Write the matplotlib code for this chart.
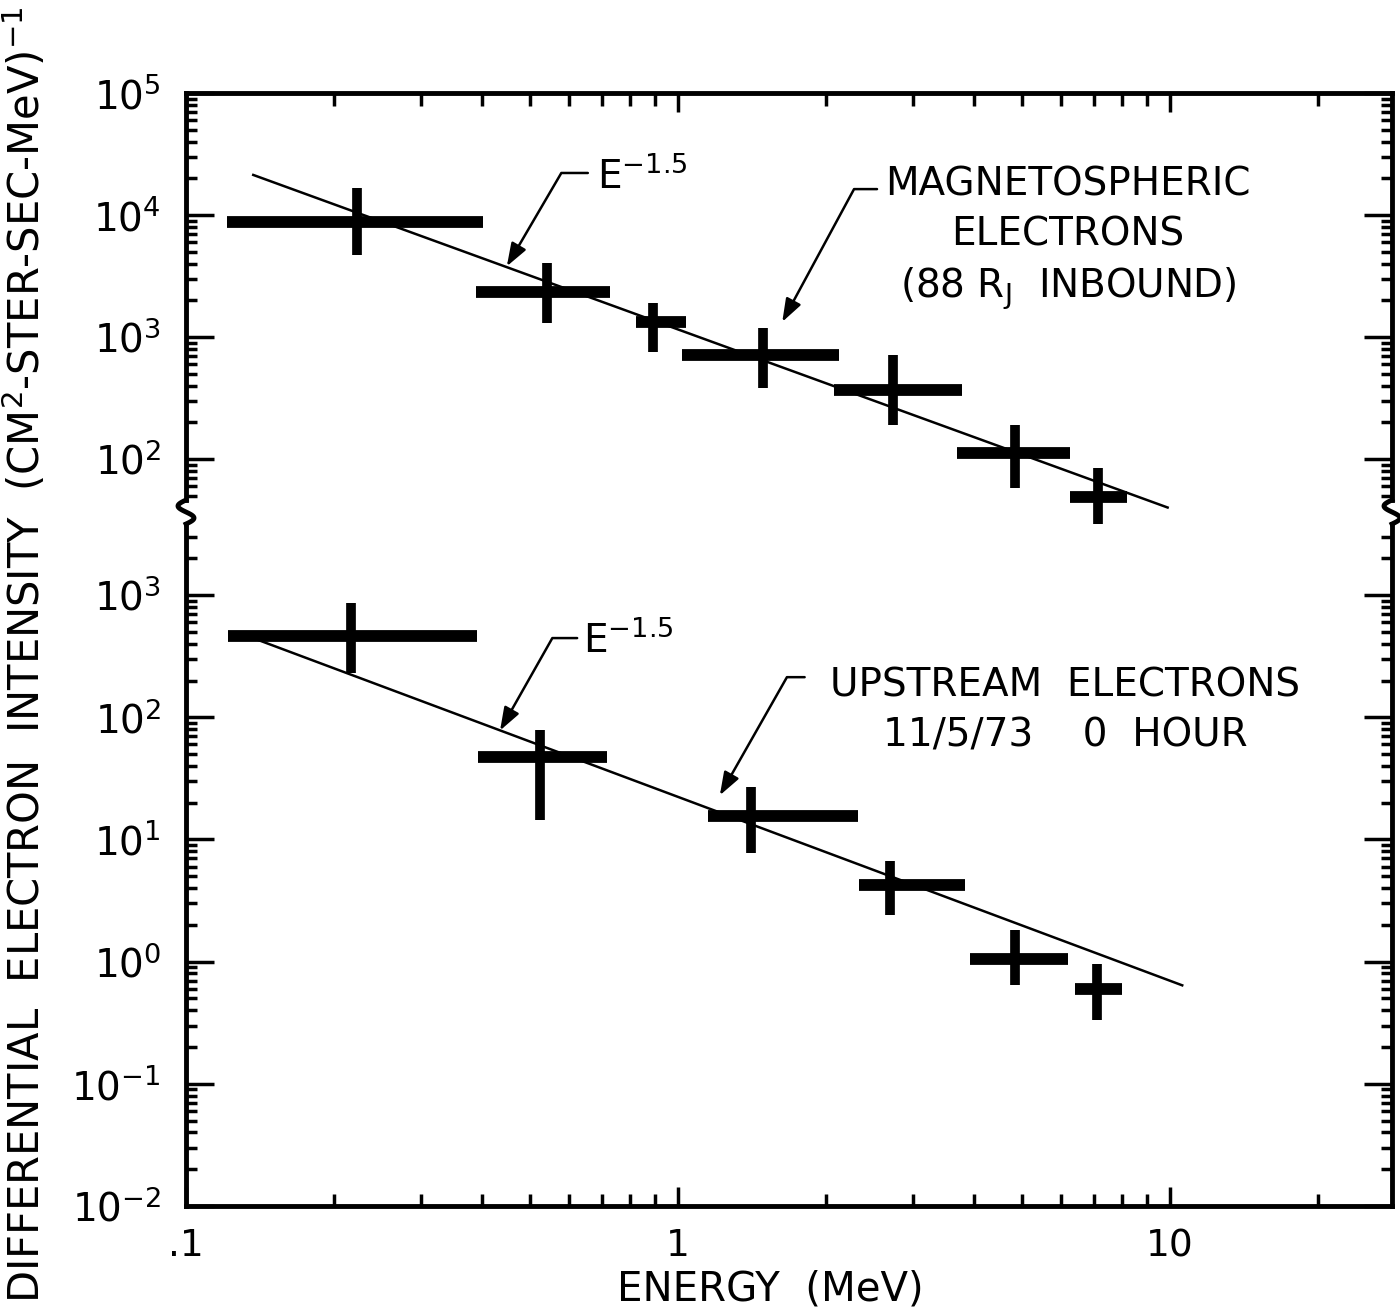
import numpy as np
import matplotlib
matplotlib.use("Agg")
import matplotlib.pyplot as plt
from matplotlib.ticker import LogLocator, FixedLocator, FixedFormatter, NullFormatter
from matplotlib.lines import Line2D

plt.rcParams['font.family'] = ['DejaVu Sans']
plt.rcParams['mathtext.fontset'] = 'dejavusans'

# ---------------- data ----------------
# Magnetospheric electrons (88 R_J inbound)
mag_E = [0.223, 0.542, 0.889, 1.49, 2.74, 4.84, 7.14]
mag_E_lo = [0.121, 0.388, 0.822, 1.02, 2.08, 3.69, 6.26]
mag_E_hi = [0.402, 0.727, 1.04, 2.13, 3.78, 6.26, 8.18]
mag_I = [8770, 2340, 1330, 711, 368, 112, 48.9]
mag_I_lo = [4700, 1300, 753, 382, 190, 57.8, 25.2]
mag_I_hi = [16600, 4040, 1900, 1185, 711, 190, 84.4]

# Upstream electrons 11/5/73 0 hour
ups_E = [0.217, 0.525, 1.41, 2.70, 4.84, 7.11]
ups_E_lo = [0.122, 0.392, 1.15, 2.34, 3.92, 6.41]
ups_E_hi = [0.390, 0.718, 2.32, 3.83, 6.21, 7.99]
ups_I = [461, 47, 15.7, 4.2, 1.06, 0.60]
ups_I_lo = [230, 14.3, 7.7, 2.4, 0.64, 0.33]
ups_I_hi = [859, 78, 26.7, 6.7, 1.8, 0.96]

# E^-1.5 reference lines (end points)
mag_fit_E = [0.137, 9.9]
mag_fit_I = [21300, 40]
ups_fit_E = [0.132, 10.6]
ups_fit_I = [470, 0.64]

xtick_vals = [0.1, 1, 10]
xtick_labels = ['.1', '1', '10']

ylabel = 'DIFFERENTIAL  ELECTRON  INTENSITY  (CM$^2$-STER-SEC-MeV)$^{-1}$'
xlabel = 'ENERGY  (MeV)'
mag_label = 'MAGNETOSPHERIC\nELECTRONS\n(88 R$_\\mathregular{J}$  INBOUND)'
ups_label = 'UPSTREAM  ELECTRONS\n11/5/73    0  HOUR'
slope_label = 'E$^{-1.5}$'

# ---------------- figure ----------------
W, H = 1400, 1315
fig = plt.figure(figsize=(W / 100, H / 100), dpi=100)


def fbox(x0, y0, x1, y1):
    return [x0 / W, 1 - y1 / H, (x1 - x0) / W, (y1 - y0) / H]


ax_top = fig.add_axes(fbox(186, 93, 1392, 500))
ax_bot = fig.add_axes(fbox(186, 524, 1392, 1206))

ax_top.set_xscale('log'); ax_top.set_yscale('log')
ax_bot.set_xscale('log'); ax_bot.set_yscale('log')
for ax in (ax_top, ax_bot):
    ax.set_xlim(0.1, 28.3)
ax_top.set_ylim(46.1, 1e5)
ax_bot.set_ylim(1e-2, 3820)

for ax in (ax_top, ax_bot):
    ax.xaxis.set_major_locator(FixedLocator(xtick_vals))
    ax.xaxis.set_major_formatter(FixedFormatter(xtick_labels))
    ax.xaxis.set_minor_locator(LogLocator(base=10, subs=np.arange(2, 10), numticks=20))
    ax.xaxis.set_minor_formatter(NullFormatter())
    ax.yaxis.set_major_locator(LogLocator(base=10, numticks=20))
    ax.yaxis.set_minor_locator(LogLocator(base=10, subs=np.arange(2, 10), numticks=20))
    ax.yaxis.set_minor_formatter(NullFormatter())
    ax.tick_params(which='both', direction='in', width=2.5, color='black',
                   left=True, right=True)
    ax.tick_params(axis='y', which='major', length=20, pad=18, labelsize=28)
    ax.tick_params(axis='y', which='minor', length=8)
    ax.tick_params(axis='x', which='major', length=14, pad=16, labelsize=27)
    ax.tick_params(axis='x', which='minor', length=9)
    for s in ax.spines.values():
        s.set_linewidth(3.5)

ax_top.spines['bottom'].set_visible(False)
ax_top.tick_params(axis='x', which='both', top=True, bottom=False, labelbottom=False)
ax_bot.spines['top'].set_visible(False)
ax_bot.tick_params(axis='x', which='both', top=False, bottom=True)


def crosses(ax, E, Elo, Ehi, I, Ilo, Ihi):
    E, Elo, Ehi = np.asarray(E), np.asarray(Elo), np.asarray(Ehi)
    I, Ilo, Ihi = np.asarray(I), np.asarray(Ilo), np.asarray(Ihi)
    c1 = ax.errorbar(E, I, xerr=[E - Elo, Ehi - E], fmt='none', ecolor='black',
                     elinewidth=8.5, capsize=0)
    c2 = ax.errorbar(E, I, yerr=[I - Ilo, Ihi - I], fmt='none', ecolor='black',
                     elinewidth=7, capsize=0)
    for c in (c1, c2):
        for lc in c.lines[2]:
            lc.set_clip_on(False)


crosses(ax_top, mag_E, mag_E_lo, mag_E_hi, mag_I, mag_I_lo, mag_I_hi)
crosses(ax_bot, ups_E, ups_E_lo, ups_E_hi, ups_I, ups_I_lo, ups_I_hi)

ax_top.plot(mag_fit_E, mag_fit_I, color='black', lw=1.8, clip_on=False)
ax_bot.plot(ups_fit_E, ups_fit_I, color='black', lw=1.8, clip_on=False)

# ---------------- annotations ----------------
TXT = 28
arrow_kw = dict(arrowstyle='-|>,head_length=0.7,head_width=0.25', color='black',
                lw=1.8, shrinkA=0, shrinkB=0, mutation_scale=20)

ax_top.text(0.686, 16600, slope_label, ha='left', va='baseline', fontsize=TXT)
ax_top.annotate('', xy=(0.449, 3800), xytext=(0.656, 22100),
                arrowprops=dict(connectionstyle='angle,angleA=0,angleB=59.7,rad=0', **arrow_kw))

ax_top.text(6.21, 2090, mag_label, ha='center', va='baseline', fontsize=TXT,
            multialignment='center', linespacing=1.38)
ax_top.annotate('', xy=(1.63, 1330), xytext=(2.54, 16300),
                arrowprops=dict(connectionstyle='angle,angleA=0,angleB=61.6,rad=0', **arrow_kw))

ax_bot.text(0.641, 341, slope_label, ha='left', va='baseline', fontsize=TXT)
ax_bot.annotate('', xy=(0.435, 78), xytext=(0.624, 445),
                arrowprops=dict(connectionstyle='angle,angleA=0,angleB=60.5,rad=0', **arrow_kw))

ax_bot.text(6.12, 57.8, ups_label, ha='center', va='baseline', fontsize=TXT,
            multialignment='center', linespacing=1.38)
ax_bot.annotate('', xy=(1.217, 23), xytext=(1.81, 213),
                arrowprops=dict(connectionstyle='angle,angleA=0,angleB=60.4,rad=0', **arrow_kw))

# ---------------- axis labels ----------------
fig.text(25 / W, 1 - 655 / H, ylabel, rotation=90, ha='center', va='center', fontsize=30)
fig.text(770 / W, 1 - 1290 / H, xlabel, ha='center', va='center', fontsize=29)

# ---------------- axis-break squiggles ----------------
pt = ax_top.get_position()
pb = ax_bot.get_position()
t = np.linspace(0, 1, 80)
yy = pt.y0 + (pb.y1 - pt.y0) * t
amp = 8 / W
for xs in (pt.x0, pt.x1):
    xx = xs - amp * np.sin(2 * np.pi * t)
    fig.add_artist(Line2D(xx, yy, lw=3.5, color='black', transform=fig.transFigure))

fig.savefig('out.png', dpi=100)
